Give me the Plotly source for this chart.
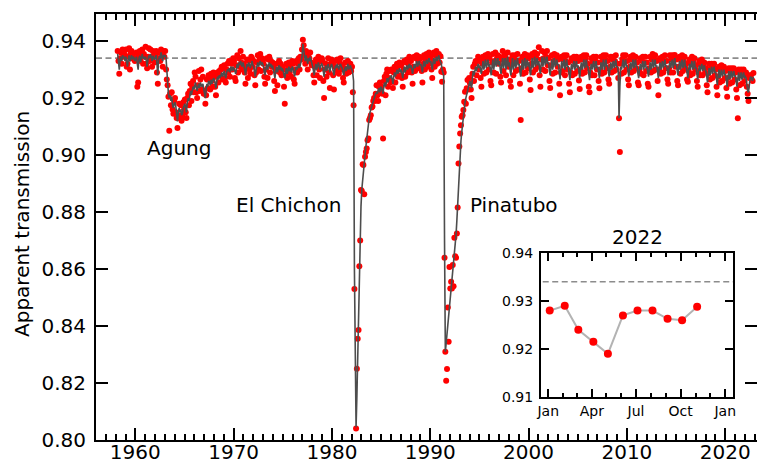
import pandas as pd
import plotly.graph_objects as go

# ---------------- DATA (apparent transmission, units of 1e-4) ----------------
START_YEAR = 1958
FIRST_MONTH = 3

line_1958_1969 = [
    [9355, 9318, 9300, 9335, 9345, 9330, 9350, 9340, 9345, 9330],
    [9345, 9325, 9310, 9338, 9350, 9328, 9342, 9350, 9335, 9345, 9340, 9330],
    [9335, 9345, 9320, 9300, 9340, 9348, 9325, 9350, 9355, 9338, 9345, 9335],
    [9345, 9330, 9310, 9335, 9350, 9340, 9355, 9345, 9330, 9348, 9340, 9335],
    [9340, 9350, 9320, 9280, 9335, 9348, 9338, 9360, 9345, 9330, 9352, 9345],
    [9350, 9340, 9300, 9250, 9215, 9200, 9210, 9190, 9205, 9175, 9165, 9180],
    [9185, 9170, 9140, 9118, 9150, 9165, 9150, 9160, 9140, 9145, 9165, 9175],
    [9180, 9165, 9150, 9185, 9200, 9190, 9215, 9225, 9210, 9220, 9240, 9230],
    [9245, 9255, 9235, 9225, 9240, 9250, 9235, 9255, 9245, 9240, 9250, 9230],
    [9215, 9200, 9230, 9250, 9240, 9260, 9255, 9245, 9265, 9250, 9258, 9270],
    [9265, 9250, 9235, 9260, 9275, 9265, 9280, 9270, 9285, 9290, 9275, 9290],
    [9295, 9280, 9270, 9290, 9300, 9295, 9305, 9290, 9310, 9305, 9295, 9310],
]
dots_1958_1969 = [
    [9365, 9330, 9285, 9340, 9360, 9320, 9370, 9345, 9355, 9350],
    [9370, 9310, 9320, 9345, 9375, 9300, 9360, 9365, 9340, 9355, 9335, 9330],
    [9340, 9360, 9240, 9255, 9350, 9365, 9330, 9360, 9370, 9320, 9355, 9345],
    [9380, 9320, 9305, 9345, 9375, 9330, 9370, 9340, 9310, 9365, 9350, 9325],
    [9350, 9365, 9290, 9250, 9340, 9360, 9330, 9370, 9355, 9310, 9365, 9345],
    [9365, 9300, 9265, 9245, 9205, 9085, 9215, 9175, 9220, 9160, 9145, 9190],
    [9200, 9150, 9130, 9095, 9130, 9180, 9140, 9175, 9120, 9135, 9185, 9160],
    [9195, 9150, 9130, 9200, 9215, 9175, 9225, 9250, 9190, 9240, 9260, 9220],
    [9290, 9275, 9220, 9200, 9245, 9295, 9225, 9265, 9300, 9230, 9275, 9215],
    [9225, 9180, 9210, 9265, 9235, 9280, 9270, 9230, 9285, 9260, 9240, 9290],
    [9275, 9240, 9210, 9275, 9290, 9255, 9295, 9280, 9300, 9310, 9265, 9305],
    [9315, 9270, 9255, 9300, 9320, 9290, 9330, 9275, 9325, 9320, 9300, 9340],
]

line_1970_1981 = [
    [9305, 9295, 9285, 9310, 9320, 9305, 9325, 9315, 9330, 9320, 9310, 9325],
    [9315, 9300, 9280, 9300, 9320, 9310, 9325, 9315, 9305, 9320, 9330, 9315],
    [9310, 9295, 9275, 9300, 9315, 9325, 9310, 9320, 9330, 9315, 9325, 9320],
    [9310, 9290, 9280, 9305, 9320, 9300, 9315, 9325, 9310, 9320, 9305, 9315],
    [9300, 9285, 9270, 9295, 9310, 9290, 9305, 9315, 9300, 9310, 9295, 9305],
    [9295, 9280, 9270, 9290, 9305, 9285, 9300, 9310, 9295, 9305, 9290, 9310],
    [9305, 9290, 9275, 9295, 9310, 9300, 9315, 9320, 9305, 9325, 9330, 9345],
    [9390, 9370, 9345, 9330, 9350, 9335, 9320, 9340, 9330, 9345, 9335, 9320],
    [9310, 9295, 9280, 9305, 9320, 9300, 9315, 9325, 9310, 9300, 9315, 9320],
    [9315, 9290, 9275, 9300, 9315, 9295, 9310, 9320, 9305, 9290, 9310, 9320],
    [9310, 9295, 9280, 9300, 9315, 9305, 9320, 9310, 9300, 9315, 9320, 9310],
    [9305, 9290, 9280, 9300, 9310, 9295, 9310, 9320, 9300, 9310, 9315, 9305],
]
dots_1970_1981 = [
    [9330, 9270, 9260, 9315, 9350, 9290, 9340, 9310, 9365, 9325, 9300, 9345],
    [9320, 9290, 9250, 9310, 9335, 9270, 9330, 9300, 9285, 9345, 9340, 9310],
    [9330, 9280, 9245, 9290, 9325, 9350, 9300, 9335, 9355, 9295, 9340, 9330],
    [9320, 9275, 9250, 9300, 9340, 9270, 9335, 9345, 9290, 9330, 9310, 9325],
    [9310, 9260, 9225, 9295, 9320, 9245, 9300, 9330, 9290, 9320, 9280, 9310],
    [9300, 9240, 9180, 9280, 9320, 9270, 9310, 9325, 9290, 9315, 9275, 9330],
    [9320, 9265, 9250, 9300, 9330, 9290, 9320, 9340, 9300, 9345, 9335, 9370],
    [9405, 9385, 9350, 9320, 9365, 9330, 9300, 9355, 9340, 9360, 9325, 9315],
    [9320, 9280, 9255, 9310, 9335, 9280, 9320, 9345, 9300, 9270, 9330, 9340],
    [9330, 9260, 9200, 9300, 9320, 9275, 9315, 9340, 9290, 9235, 9320, 9335],
    [9325, 9280, 9230, 9310, 9330, 9295, 9335, 9300, 9285, 9325, 9340, 9300],
    [9315, 9270, 9255, 9305, 9325, 9285, 9300, 9330, 9290, 9305, 9320, 9295],
]

line_1982_1993 = [
    [9300, 9285, 9260, 8600, 8250, 8045, 8150, 8300, 8420, 8560, 8700, 8820],
    [8880, 8920, 8940, 8970, 9000, 9030, 9060, 9090, 9110, 9130, 9150, 9165],
    [9170, 9180, 9190, 9200, 9210, 9216, 9220, 9215, 9228, 9235, 9220, 9240],
    [9235, 9225, 9215, 9245, 9255, 9240, 9260, 9270, 9255, 9265, 9275, 9270],
    [9280, 9265, 9250, 9275, 9290, 9275, 9290, 9300, 9285, 9295, 9305, 9290],
    [9300, 9285, 9270, 9295, 9310, 9290, 9305, 9315, 9300, 9310, 9320, 9305],
    [9315, 9300, 9285, 9305, 9320, 9305, 9325, 9330, 9310, 9320, 9330, 9315],
    [9320, 9305, 9290, 9315, 9330, 9310, 9325, 9335, 9320, 9330, 9340, 9325],
    [9330, 9315, 9300, 9325, 9340, 9320, 9335, 9345, 9330, 9340, 9350, 9335],
    [9330, 9320, 9300, 9290, 9280, 8700, 8310, 8340, 8370, 8400, 8430, 8470],
    [8500, 8530, 8560, 8590, 8620, 8650, 8680, 8720, 8770, 8830, 8890, 8960],
    [9010, 9050, 9080, 9110, 9140, 9165, 9185, 9200, 9215, 9225, 9240, 9250],
]
dots_1982_1993 = [
    [9310, 9220, 9175, 8530, None, 8040, 8250, 8355, 8386, 8610, 8700, 8877],
    [8874, 8968, 8965, 8862, 8994, 9011, 9023, 9052, 9058, 9123, 9130, 9140],
    [9167, 9170, 9190, 9200, 9190, 9215, 9245, 9210, 9190, 9240, 9255, 9225],
    [9240, 9215, 9058, 9260, 9275, 9210, 9285, 9300, 9240, 9270, 9295, 9255],
    [9300, 9260, 9235, 9290, 9310, 9255, 9305, 9320, 9275, 9315, 9325, 9280],
    [9315, 9270, 9240, 9300, 9330, 9275, 9325, 9335, 9290, 9320, 9345, 9300],
    [9330, 9290, 9250, 9310, 9345, 9295, 9340, 9350, 9305, 9330, 9345, 9310],
    [9340, 9295, 9255, 9320, 9350, 9300, 9335, 9355, 9310, 9340, 9360, 9320],
    [9345, 9300, 9270, 9330, 9360, 9310, 9350, 9365, 9320, 9345, 9355, 9325],
    [9347, 9292, 9257, 9300, 9290, 8640, 8310, 8208, 8249, 8465, 8345, 8607],
    [8532, 8555, 8532, 8614, 8540, 8710, 8645, 8640, 8725, 8816, 8970, 9030],
    [9076, 9105, 9134, 9140, 9158, 9187, 9222, 9180, 9234, 9263, 9230, 9270],
]

line_1994_2007 = [
    [9260, 9245, 9235, 9270, 9295, 9280, 9300, 9310, 9295, 9315, 9320, 9305],
    [9315, 9295, 9285, 9310, 9330, 9300, 9320, 9335, 9305, 9325, 9335, 9310],
    [9320, 9295, 9280, 9315, 9335, 9300, 9325, 9340, 9310, 9330, 9340, 9315],
    [9330, 9300, 9285, 9320, 9340, 9305, 9330, 9340, 9300, 9325, 9345, 9310],
    [9325, 9295, 9280, 9315, 9340, 9300, 9325, 9335, 9305, 9320, 9340, 9315],
    [9320, 9290, 9275, 9310, 9335, 9300, 9325, 9340, 9305, 9325, 9335, 9310],
    [9325, 9295, 9280, 9315, 9340, 9305, 9330, 9345, 9310, 9330, 9340, 9315],
    [9330, 9300, 9285, 9320, 9345, 9310, 9330, 9345, 9315, 9330, 9345, 9320],
    [9325, 9295, 9280, 9310, 9335, 9300, 9325, 9340, 9310, 9325, 9335, 9315],
    [9320, 9290, 9265, 9300, 9330, 9305, 9325, 9335, 9300, 9320, 9335, 9310],
    [9310, 9285, 9263, 9295, 9320, 9300, 9320, 9330, 9300, 9315, 9330, 9305],
    [9315, 9290, 9270, 9305, 9325, 9300, 9320, 9335, 9305, 9320, 9335, 9310],
    [9310, 9285, 9263, 9295, 9320, 9300, 9320, 9330, 9300, 9315, 9330, 9305],
    [9310, 9290, 9270, 9300, 9325, 9300, 9320, 9335, 9300, 9320, 9335, 9310],
]
dots_1994_2007 = [
    [9252, 9230, 9200, 9285, 9310, 9260, 9320, 9330, 9280, 9330, 9345, 9300],
    [9330, 9270, 9240, 9320, 9345, 9285, 9335, 9350, 9290, 9340, 9355, 9300],
    [9340, 9260, 9245, 9325, 9355, 9290, 9330, 9360, 9285, 9340, 9350, 9320],
    [9345, 9275, 9255, 9335, 9365, 9295, 9350, 9345, 9280, 9335, 9360, 9310],
    [9335, 9260, 9240, 9320, 9350, 9280, 9335, 9350, 9295, 9330, 9355, 9300],
    [9330, 9250, 9123, 9305, 9345, 9285, 9330, 9355, 9290, 9340, 9350, 9305],
    [9340, 9265, 9228, 9320, 9355, 9290, 9345, 9360, 9300, 9340, 9355, 9310],
    [9378, 9280, 9240, 9335, 9365, 9300, 9340, 9360, 9295, 9345, 9365, 9315],
    [9340, 9260, 9235, 9315, 9350, 9285, 9330, 9355, 9290, 9335, 9350, 9310],
    [9335, 9250, 9210, 9290, 9345, 9295, 9335, 9350, 9280, 9330, 9350, 9300],
    [9325, 9250, 9220, 9290, 9340, 9280, 9330, 9345, 9285, 9330, 9345, 9295],
    [9330, 9262, 9232, 9300, 9345, 9285, 9335, 9350, 9290, 9335, 9350, 9305],
    [9320, 9240, 9220, 9290, 9340, 9280, 9325, 9345, 9280, 9330, 9345, 9300],
    [9325, 9260, 9234, 9300, 9345, 9285, 9330, 9350, 9290, 9335, 9350, 9305],
]

line_2008_2022 = [
    [9315, 9290, 9275, 9305, 9325, 9300, 9320, 9330, 9305, 9320, 9335, 9310],
    [9310, 9290, 9129, 9240, 9310, 9300, 9325, 9335, 9305, 9320, 9335, 9310],
    [9315, 9290, 9275, 9305, 9325, 9300, 9320, 9335, 9305, 9320, 9335, 9310],
    [9310, 9285, 9270, 9300, 9320, 9300, 9320, 9330, 9300, 9315, 9330, 9305],
    [9310, 9290, 9275, 9305, 9325, 9300, 9320, 9335, 9305, 9320, 9335, 9310],
    [9315, 9290, 9270, 9305, 9325, 9300, 9320, 9330, 9305, 9320, 9335, 9310],
    [9315, 9295, 9280, 9305, 9330, 9305, 9320, 9335, 9305, 9320, 9340, 9315],
    [9320, 9295, 9280, 9310, 9330, 9300, 9320, 9335, 9305, 9320, 9335, 9310],
    [9310, 9290, 9270, 9300, 9320, 9300, 9315, 9330, 9300, 9315, 9330, 9305],
    [9305, 9285, 9265, 9295, 9315, 9295, 9310, 9320, 9295, 9305, 9315, 9300],
    [9295, 9275, 9255, 9285, 9305, 9280, 9295, 9310, 9285, 9300, 9310, 9290],
    [9290, 9265, 9245, 9280, 9300, 9270, 9290, 9300, 9275, 9290, 9300, 9280],
    [9285, 9260, 9240, 9275, 9295, 9265, 9285, 9295, 9270, 9285, 9295, 9275],
    [9280, 9255, 9240, 9270, 9290, 9260, 9280, 9290, 9265, 9280, 9290, 9270],
    [9275, 9270, 9245, 9225, 9220, 9255, 9270, 9275, 9265, 9260, 9275],
]
dots_2008_2022 = [
    [9330, 9265, 9250, 9310, 9345, 9290, 9335, 9345, 9295, 9330, 9350, 9300],
    [9320, 9270, 9129, 9011, 9320, 9285, 9335, 9350, 9290, 9330, 9350, 9300],
    [9330, 9265, 9245, 9310, 9345, 9290, 9335, 9350, 9295, 9335, 9345, 9305],
    [9325, 9255, 9245, 9300, 9340, 9285, 9330, 9345, 9280, 9325, 9345, 9295],
    [9325, 9250, 9240, 9305, 9345, 9290, 9335, 9355, 9295, 9335, 9350, 9300],
    [9330, 9260, 9210, 9300, 9340, 9285, 9330, 9345, 9290, 9330, 9350, 9305],
    [9330, 9265, 9250, 9305, 9350, 9290, 9335, 9350, 9290, 9335, 9351, 9310],
    [9335, 9260, 9245, 9310, 9345, 9285, 9330, 9350, 9295, 9330, 9345, 9305],
    [9320, 9265, 9257, 9295, 9335, 9280, 9325, 9345, 9285, 9325, 9340, 9300],
    [9315, 9260, 9240, 9290, 9330, 9280, 9320, 9335, 9280, 9315, 9325, 9290],
    [9305, 9245, 9220, 9285, 9320, 9265, 9305, 9320, 9270, 9310, 9320, 9280],
    [9300, 9240, 9210, 9275, 9310, 9255, 9300, 9315, 9260, 9300, 9310, 9270],
    [9295, 9235, 9205, 9270, 9305, 9250, 9295, 9305, 9255, 9295, 9305, 9265],
    [9290, 9230, 9200, 9129, 9300, 9245, 9285, 9300, 9250, 9290, 9300, 9260],
    [9280, 9290, 9240, 9215, 9190, 9270, 9280, 9280, 9263, 9260, 9288],
]

REFERENCE_LEVEL = 0.934

# 2022 inset (monthly means)
inset_months = ["2022-01-04", "2022-02-04", "2022-03-04", "2022-04-04", "2022-05-04",
                "2022-06-04", "2022-07-04", "2022-08-04", "2022-09-04", "2022-10-04",
                "2022-11-04"]
inset_values = [0.9280, 0.9290, 0.9240, 0.9215, 0.9190, 0.9270, 0.9280, 0.9280,
                0.9263, 0.9260, 0.9288]

main_year_ticks = [1960, 1970, 1980, 1990, 2000, 2010, 2020]
main_y_ticks = [0.80, 0.82, 0.84, 0.86, 0.88, 0.90, 0.92, 0.94]
inset_y_ticks = [0.91, 0.92, 0.93, 0.94]
inset_x_tickvals = ["2022-01-01", "2022-04-01", "2022-07-01", "2022-10-01", "2023-01-01"]
inset_x_ticktext = ["Jan", "Apr", "Jul", "Oct", "Jan"]


def flatten(blocks, start_year, first_month):
    xs, ys = [], []
    year = start_year
    for block in blocks:
        for row in block:
            m0 = first_month if year == start_year else 1
            for k, v in enumerate(row):
                xs.append(pd.Timestamp(year=year, month=m0 + k, day=15))
                ys.append(None if v is None else v / 10000.0)
            year += 1
    return xs, ys


line_x, line_y = flatten([line_1958_1969, line_1970_1981, line_1982_1993,
                          line_1994_2007, line_2008_2022], START_YEAR, FIRST_MONTH)
dots_x, dots_y = flatten([dots_1958_1969, dots_1970_1981, dots_1982_1993,
                          dots_1994_2007, dots_2008_2022], START_YEAR, FIRST_MONTH)

FONT = "DejaVu Sans"
fig = go.Figure()

x_lo, x_hi = "1956-01-01", "2023-03-28"

fig.add_trace(go.Scatter(x=[x_lo, x_hi], y=[REFERENCE_LEVEL, REFERENCE_LEVEL], mode="lines",
                         line=dict(color="#8c8c8c", width=1.6, dash="6px,3.5px"),
                         hoverinfo="skip", showlegend=False))
fig.add_trace(go.Scatter(x=dots_x, y=dots_y, mode="markers",
                         marker=dict(color="#ff0000", size=6, line=dict(width=0)),
                         showlegend=False))
fig.add_trace(go.Scatter(x=line_x, y=line_y, mode="lines", connectgaps=True,
                         line=dict(color="#4d4d4d", width=1.6),
                         showlegend=False))
# right-hand mirror ticks (no spine)
fig.add_trace(go.Scatter(x=[None], y=[None], yaxis="y2", showlegend=False))

# inset
fig.add_trace(go.Scatter(x=["2021-12-01", "2023-02-01"], y=[REFERENCE_LEVEL, REFERENCE_LEVEL],
                         mode="lines", xaxis="x2", yaxis="y3",
                         line=dict(color="#8c8c8c", width=1.6, dash="6px,3.5px"),
                         hoverinfo="skip", showlegend=False))
fig.add_trace(go.Scatter(x=inset_months, y=inset_values, mode="lines+markers",
                         xaxis="x2", yaxis="y3",
                         line=dict(color="#b3b3b3", width=2),
                         marker=dict(color="#ff0000", size=8, line=dict(width=0)),
                         showlegend=False))

main_y_range = [0.80, 0.9495]
fig.update_layout(
    width=757, height=465,
    margin=dict(l=96, r=0, t=14, b=25),
    paper_bgcolor="white", plot_bgcolor="white",
    font=dict(family=FONT, size=20, color="black"),
    xaxis=dict(type="date", range=[x_lo, x_hi], domain=[0, 1],
               tickvals=[f"{y}-01-01" for y in main_year_ticks],
               ticktext=[str(y) for y in main_year_ticks],
               ticks="inside", ticklen=12, tickwidth=2, tickcolor="black",
               minor=dict(dtick="M12", tick0="1956-01-01", ticks="inside",
                          ticklen=6, tickwidth=1.5, tickcolor="black"),
               showline=True, linewidth=2, linecolor="black", mirror="ticks",
               showgrid=False, zeroline=False, automargin=False,
               tickfont=dict(size=20), ticklabelstandoff=-7),
    yaxis=dict(range=main_y_range, domain=[0, 1],
               tickvals=main_y_ticks, ticktext=[f"{v:.2f}" for v in main_y_ticks],
               ticks="inside", ticklen=12, tickwidth=2, tickcolor="black",
               showline=True, linewidth=2, linecolor="black", mirror=False,
               showgrid=False, zeroline=False, automargin=False,
               tickfont=dict(size=20), ticklabelstandoff=4),
    yaxis2=dict(range=main_y_range, overlaying="y", side="right", anchor="x",
                tickvals=main_y_ticks, showticklabels=False,
                ticks="inside", ticklen=12, tickwidth=2, tickcolor="black",
                showline=False, showgrid=False, zeroline=False, automargin=False),
    xaxis2=dict(type="date", domain=[0.6732, 0.9637], anchor="y3",
                range=["2021-12-17", "2023-01-17"],
                tickvals=inset_x_tickvals, ticktext=inset_x_ticktext,
                ticks="inside", ticklen=8, tickwidth=2, tickcolor="black",
                minor=dict(dtick="M1", tick0="2022-01-01", ticks="inside",
                           ticklen=4, tickwidth=1.5, tickcolor="black"),
                showline=True, linewidth=2, linecolor="black", mirror="ticks",
                showgrid=False, zeroline=False, automargin=False,
                tickfont=dict(size=14), ticklabelstandoff=0),
    yaxis3=dict(domain=[0.1009, 0.439], anchor="x2", range=[0.91, 0.94],
                tickvals=inset_y_ticks, ticktext=[f"{v:.2f}" for v in inset_y_ticks],
                ticks="inside", ticklen=8, tickwidth=2, tickcolor="black",
                showline=True, linewidth=2, linecolor="black", mirror="ticks",
                showgrid=False, zeroline=False, automargin=False,
                tickfont=dict(size=14), ticklabelstandoff=3),
    annotations=[
        dict(text="Apparent transmission", xref="paper", yref="paper",
             x=-0.112, y=0.507, textangle=-90, showarrow=False,
             xanchor="center", yanchor="middle", font=dict(size=20)),
        dict(text="Agung", xref="x", yref="y", x="1964-06-10", y=0.9025,
             showarrow=False, font=dict(size=20)),
        dict(text="El Chichon", xref="x", yref="y", x="1975-08-18", y=0.8824,
             showarrow=False, font=dict(size=20)),
        dict(text="Pinatubo", xref="x", yref="y", x="1998-07-08", y=0.8824,
             showarrow=False, font=dict(size=20)),
        dict(text="2022", xref="paper", yref="paper", x=0.8185, y=0.4765,
             showarrow=False, xanchor="center", yanchor="middle", font=dict(size=20)),
    ],
)

fig.write_html("out.html", config={"displayModeBar": False},
               post_script="document.body.style.margin='0';document.body.style.overflow='hidden';")
